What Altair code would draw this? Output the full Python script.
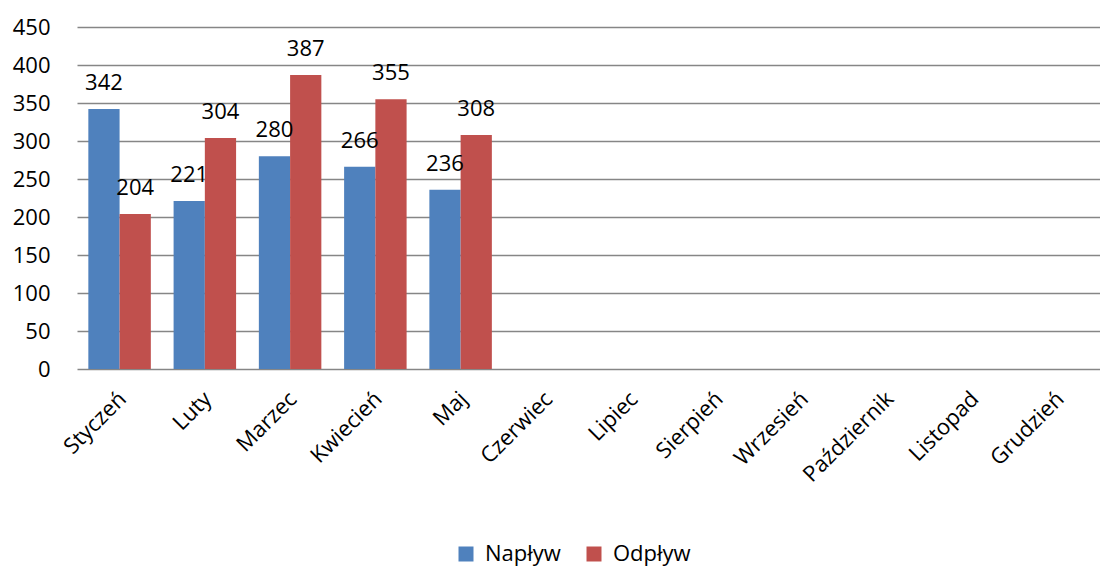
import altair as alt
import pandas as pd

months = ["Styczeń", "Luty", "Marzec", "Kwiecień", "Maj", "Czerwiec", "Lipiec",
          "Sierpień", "Wrzesień", "Październik", "Listopad", "Grudzień"]
series = ["Napływ", "Odpływ"]
naplyw = [342, 221, 280, 266, 236]
odplyw = [204, 304, 387, 355, 308]
colors = ["#4F81BD", "#C0504D"]
y_ticks = list(range(0, 451, 50))

rows = []
for i, v in enumerate(naplyw):
    rows.append({"month": months[i], "series": series[0], "value": v})
for i, v in enumerate(odplyw):
    rows.append({"month": months[i], "series": series[1], "value": v})
df = pd.DataFrame(rows)

FONT = "Open Sans"
FS = 22

x_enc = alt.X("month:N", sort=months,
              scale=alt.Scale(domain=months, paddingInner=0.267, paddingOuter=0.133),
              axis=alt.Axis(title=None, labelAngle=-45, labelAlign="right", labelBaseline="middle",
                            labelPadding=26, labelOffset=3, domain=False, ticks=False, grid=False,
                            labelFontSize=FS, labelFont=FONT, labelColor="black"))
xo_enc = alt.XOffset("series:N", sort=series, scale=alt.Scale(domain=series, paddingInner=0, paddingOuter=0))
y_enc = alt.Y("value:Q", scale=alt.Scale(domain=[0, 450], nice=False),
              axis=alt.Axis(title=None, values=y_ticks, tickCount=10, domain=False, ticks=False,
                            labelOverlap=False, labelFlush=False,
                            labelFontSize=FS, labelFont=FONT, labelColor="black", labelPadding=27,
                            gridColor="#868686", gridWidth=1.5))

base = alt.Chart(df).encode(x=x_enc, xOffset=xo_enc, y=y_enc)

bars = base.mark_bar().encode(
    color=alt.Color("series:N", sort=series, scale=alt.Scale(domain=series, range=colors),
                    legend=alt.Legend(title=None, orient="none", legendX=378, legendY=516,
                                      direction="horizontal", symbolType="square", symbolSize=225,
                                      symbolStrokeWidth=0, labelFontSize=FS, labelFont=FONT,
                                      labelColor="black", columnPadding=22, labelOffset=8))
)

labels = base.mark_text(dy=-19, baseline="alphabetic", fontSize=FS, font=FONT, color="black").encode(
    text="value:Q"
)

chart = (bars + labels).properties(
    width=1023, height=342,
    autosize=alt.AutoSizeParams(type="none"),
    padding={"left": 69, "top": 19, "right": 0, "bottom": 198},
).configure_view(stroke=None)

chart.save("out.html", embed_options={"renderer": "svg", "actions": False})
